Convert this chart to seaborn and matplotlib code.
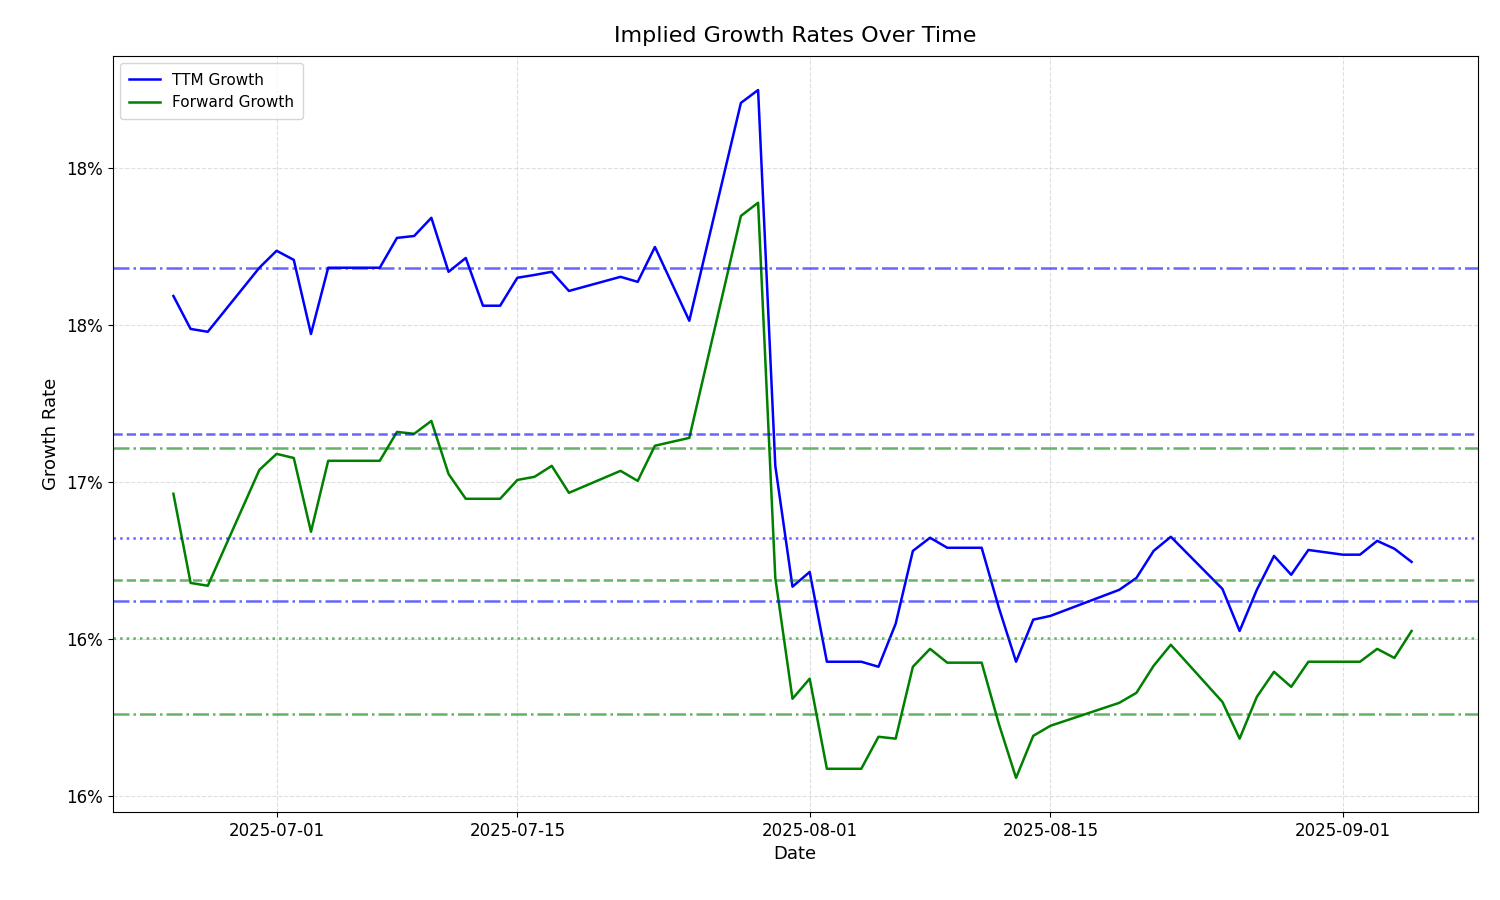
import matplotlib
matplotlib.use("Agg")
import matplotlib.pyplot as plt
import matplotlib.ticker as mtick
import matplotlib.dates as mdates
import pandas as pd
import seaborn as sns

dates = pd.to_datetime([
    "2025-06-25", "2025-06-26", "2025-06-27", "2025-06-30", "2025-07-01", "2025-07-02",
    "2025-07-03", "2025-07-04", "2025-07-05", "2025-07-07", "2025-07-08", "2025-07-09",
    "2025-07-10", "2025-07-11", "2025-07-12", "2025-07-13", "2025-07-14", "2025-07-15",
    "2025-07-16", "2025-07-17", "2025-07-18", "2025-07-21", "2025-07-22", "2025-07-23",
    "2025-07-25", "2025-07-28", "2025-07-29", "2025-07-30", "2025-07-31", "2025-08-01",
    "2025-08-02", "2025-08-04", "2025-08-05", "2025-08-06", "2025-08-07", "2025-08-08",
    "2025-08-09", "2025-08-11", "2025-08-12", "2025-08-13", "2025-08-14", "2025-08-15",
    "2025-08-19", "2025-08-20", "2025-08-21", "2025-08-22", "2025-08-25", "2025-08-26",
    "2025-08-27", "2025-08-28", "2025-08-29", "2025-08-30", "2025-09-01", "2025-09-02",
    "2025-09-03", "2025-09-04", "2025-09-05",
])

# growth rates in percent
ttm_growth = [
    17.592, 17.487, 17.478, 17.682, 17.736, 17.707, 17.471, 17.682, 17.682, 17.682,
    17.777, 17.783, 17.841, 17.669, 17.713, 17.561, 17.561, 17.650, 17.659, 17.669,
    17.608, 17.653, 17.637, 17.748, 17.513, 18.207, 18.248, 17.051, 16.666, 16.713,
    16.427, 16.427, 16.411, 16.548, 16.780, 16.822, 16.790, 16.790, 16.599, 16.427,
    16.561, 16.573, 16.656, 16.694, 16.780, 16.825, 16.659, 16.525, 16.656, 16.764,
    16.704, 16.783, 16.768, 16.768, 16.812, 16.787, 16.745,
]
fwd_growth = [
    16.962, 16.678, 16.669, 17.038, 17.089, 17.076, 16.841, 17.067, 17.067, 17.067,
    17.159, 17.153, 17.194, 17.025, 16.946, 16.946, 16.946, 17.006, 17.016, 17.051,
    16.965, 17.035, 17.003, 17.115, 17.140, 17.847, 17.889, 16.694, 16.309, 16.373,
    16.086, 16.086, 16.188, 16.182, 16.411, 16.468, 16.424, 16.424, 16.229, 16.057,
    16.191, 16.223, 16.296, 16.328, 16.414, 16.481, 16.299, 16.182, 16.315, 16.395,
    16.347, 16.427, 16.427, 16.427, 16.468, 16.439, 16.525,
]

# reference levels: (value, linestyle)
ttm_levels = [(17.682, "-."), (17.153, "--"), (16.822, ":"), (16.621, "-.")]
fwd_levels = [(17.108, "-."), (16.688, "--"), (16.503, ":"), (16.261, "-.")]

df = pd.DataFrame({
    "Date": dates,
    "TTM Growth": [v / 100 for v in ttm_growth],
    "Forward Growth": [v / 100 for v in fwd_growth],
})

fig, ax = plt.subplots(figsize=(15, 9), dpi=100)
fig.subplots_adjust(left=0.075, right=0.985, top=0.938, bottom=0.098)

sns.lineplot(data=df, x="Date", y="TTM Growth", color="blue", label="TTM Growth", ax=ax, linewidth=1.8)
sns.lineplot(data=df, x="Date", y="Forward Growth", color="green", label="Forward Growth", ax=ax, linewidth=1.8)

for val, ls in ttm_levels:
    ax.axhline(val / 100, color="blue", linestyle=ls, alpha=0.6, linewidth=1.8)
for val, ls in fwd_levels:
    ax.axhline(val / 100, color="green", linestyle=ls, alpha=0.6, linewidth=1.8)

ax.set_ylim(0.15949, 0.18357)
ax.set_xlim(pd.Timestamp("2025-06-21 11:00"), pd.Timestamp("2025-09-08 20:00"))
ax.yaxis.set_major_locator(mtick.MultipleLocator(0.005))
ax.yaxis.set_major_formatter(mtick.PercentFormatter(1.0, decimals=0))
ax.xaxis.set_major_locator(mdates.DayLocator(bymonthday=[1, 15]))
ax.xaxis.set_major_formatter(mdates.DateFormatter("%Y-%m-%d"))
ax.tick_params(labelsize=12)

ax.grid(True, linestyle="--", alpha=0.4)
ax.set_title("Implied Growth Rates Over Time", fontsize=16, pad=10)
ax.set_xlabel("Date", fontsize=13)
ax.set_ylabel("Growth Rate", fontsize=13, labelpad=4)
ax.legend(loc="upper left", fontsize=11, borderpad=0.6)

fig.savefig("out.png", dpi=100)
